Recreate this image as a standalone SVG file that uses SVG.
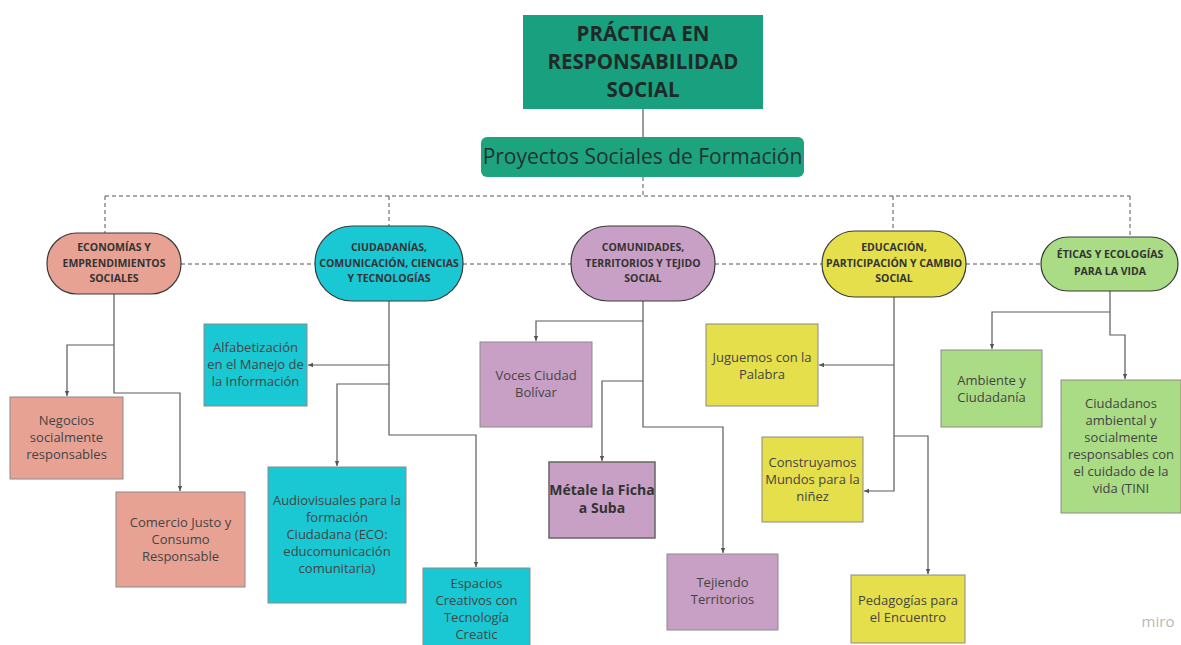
<svg xmlns="http://www.w3.org/2000/svg" width="1181" height="645" viewBox="0 0 1181 645">
<defs>
<marker id="ah" markerWidth="6" markerHeight="6" refX="5" refY="3" orient="auto" markerUnits="userSpaceOnUse">
<path d="M0,0.8 L5,3 L0,5.2 Z" fill="#555"/>
</marker>
<style>
text{font-family:"Open Sans","Noto Sans","Liberation Sans",sans-serif;text-anchor:middle}
.solid{fill:none;stroke:#5a5a5a;stroke-width:1.2}
.dash{fill:none;stroke:#555;stroke-width:1;stroke-dasharray:4,3}
.pill{stroke:#3a3a3a;stroke-width:1.2}
.box{stroke:#8a8a8a;stroke-width:1}
.nt{font-size:10.5px;font-weight:bold;fill:#333}
.bt{font-size:13px;fill:#444}
.sal{fill:#e8a294}.cya{fill:#1ac8d3}.lil{fill:#c8a0c6}.yel{fill:#e5df4b}.grn{fill:#aadb85}
</style>
</defs>
<rect width="1181" height="645" fill="#ffffff"/>

<g id="connectors">
<path class="solid" d="M643,109 V137"/>
<path class="dash" d="M643,177 V196 M105,196 H1130 M105,196 V233 M389,196 V226 M893,196 V231 M1130,196 V237"/>
<path class="dash" d="M181,264 H315 M463,264 H571 M715,264 H822 M966,264 H1041"/>
<path class="solid" d="M114,294 V393 H180 V491" marker-end="url(#ah)"/>
<path class="solid" d="M114,345 H67 V396" marker-end="url(#ah)"/>
<path class="solid" d="M389,301 V435 H476 V567" marker-end="url(#ah)"/>
<path class="solid" d="M389,365 H308" marker-end="url(#ah)"/>
<path class="solid" d="M389,384 H337 V466" marker-end="url(#ah)"/>
<path class="solid" d="M643,301 V427 H723 V553" marker-end="url(#ah)"/>
<path class="solid" d="M643,321 H536 V341" marker-end="url(#ah)"/>
<path class="solid" d="M643,381 H602 V461" marker-end="url(#ah)"/>
<path class="solid" d="M894,297 V491 H864" marker-end="url(#ah)"/>
<path class="solid" d="M894,365 H819" marker-end="url(#ah)"/>
<path class="solid" d="M894,436 H928 V574" marker-end="url(#ah)"/>
<path class="solid" d="M1110,291 V335 H1125 V379" marker-end="url(#ah)"/>
<path class="solid" d="M1110,312 H992 V349" marker-end="url(#ah)"/>
</g>

<g id="titulo">
<rect x="523" y="15" width="240" height="94" fill="#19a17f"/>
<text x="643" y="41" font-size="20.5" font-weight="bold" fill="#1f2a28">PRÁCTICA EN</text>
<text x="643" y="69" font-size="20.5" font-weight="bold" fill="#1f2a28">RESPONSABILIDAD</text>
<text x="643" y="97" font-size="20.5" font-weight="bold" fill="#1f2a28">SOCIAL</text>
</g>

<g id="proyectos">
<rect x="481" y="137" width="323" height="40" rx="6" fill="#1ea37f"/>
<text x="642.5" y="164" font-size="21" fill="#1f3330">Proyectos Sociales de Formación</text>
</g>

<g id="economias">
<rect class="pill sal" x="47" y="233" width="134" height="61" rx="30"/>
<text class="nt" x="114" y="251">ECONOMÍAS Y</text>
<text class="nt" x="114" y="267">EMPRENDIMIENTOS</text>
<text class="nt" x="114" y="282">SOCIALES</text>
</g>
<g id="ciudadanias">
<rect class="pill cya" x="315" y="226" width="148" height="75" rx="37"/>
<text class="nt" x="389" y="251">CIUDADANÍAS,</text>
<text class="nt" x="389" y="267">COMUNICACIÓN, CIENCIAS</text>
<text class="nt" x="389" y="282">Y TECNOLOGÍAS</text>
</g>
<g id="comunidades">
<rect class="pill lil" x="571" y="226" width="144" height="75" rx="37"/>
<text class="nt" x="643" y="251">COMUNIDADES,</text>
<text class="nt" x="643" y="267">TERRITORIOS Y TEJIDO</text>
<text class="nt" x="643" y="282">SOCIAL</text>
</g>
<g id="educacion">
<rect class="pill yel" x="822" y="231" width="144" height="66" rx="33"/>
<text class="nt" x="894" y="251">EDUCACIÓN,</text>
<text class="nt" x="894" y="267">PARTICIPACIÓN Y CAMBIO</text>
<text class="nt" x="894" y="282">SOCIAL</text>
</g>
<g id="eticas">
<rect class="pill grn" x="1041" y="237" width="137" height="54" rx="27"/>
<text class="nt" x="1110" y="258">ÉTICAS Y ECOLOGÍAS</text>
<text class="nt" x="1110" y="275">PARA LA VIDA</text>
</g>

<g id="negocios">
<rect class="box sal" x="10" y="397" width="113" height="82"/>
<text class="bt" x="66.5" y="425">Negocios</text>
<text class="bt" x="66.5" y="442">socialmente</text>
<text class="bt" x="66.5" y="459">responsables</text>
</g>
<g id="comercio">
<rect class="box sal" x="116" y="492" width="129" height="95"/>
<text class="bt" x="180.5" y="527">Comercio Justo y</text>
<text class="bt" x="180.5" y="544">Consumo</text>
<text class="bt" x="180.5" y="561">Responsable</text>
</g>
<g id="alfabetizacion">
<rect class="box cya" x="204" y="324" width="103" height="82"/>
<text class="bt" x="255.5" y="352">Alfabetización</text>
<text class="bt" x="255.5" y="369">en el Manejo de</text>
<text class="bt" x="255.5" y="386">la Información</text>
</g>
<g id="audiovisuales">
<rect class="box cya" x="268" y="467" width="138" height="136"/>
<text class="bt" x="337" y="505">Audiovisuales para la</text>
<text class="bt" x="337" y="522">formación</text>
<text class="bt" x="337" y="539">Ciudadana (ECO:</text>
<text class="bt" x="337" y="556">educomunicación</text>
<text class="bt" x="337" y="573">comunitaria)</text>
</g>
<g id="espacios">
<rect class="box cya" x="423" y="568" width="107" height="80"/>
<text class="bt" x="476.5" y="588">Espacios</text>
<text class="bt" x="476.5" y="605">Creativos con</text>
<text class="bt" x="476.5" y="622">Tecnología</text>
<text class="bt" x="476.5" y="639">Creatic</text>
</g>
<g id="voces">
<rect class="box lil" x="480" y="342" width="112" height="85"/>
<text class="bt" x="536" y="380">Voces Ciudad</text>
<text class="bt" x="536" y="397">Bolívar</text>
</g>
<g id="metale">
<rect class="lil" x="549" y="462" width="106" height="76" stroke="#666" stroke-width="1.5"/>
<text x="602" y="495" font-size="14" font-weight="bold" fill="#333">Métale la Ficha</text>
<text x="602" y="513" font-size="14" font-weight="bold" fill="#333">a Suba</text>
</g>
<g id="tejiendo">
<rect class="box lil" x="667" y="554" width="111" height="76"/>
<text class="bt" x="722.5" y="587">Tejiendo</text>
<text class="bt" x="722.5" y="604">Territorios</text>
</g>
<g id="juguemos">
<rect class="box yel" x="706" y="324" width="112" height="82"/>
<text class="bt" x="762" y="362">Juguemos con la</text>
<text class="bt" x="762" y="379">Palabra</text>
</g>
<g id="construyamos">
<rect class="box yel" x="762" y="437" width="101" height="85"/>
<text class="bt" x="812.5" y="467">Construyamos</text>
<text class="bt" x="812.5" y="484">Mundos para la</text>
<text class="bt" x="812.5" y="501">niñez</text>
</g>
<g id="pedagogias">
<rect class="box yel" x="851" y="575" width="114" height="68"/>
<text class="bt" x="908" y="605">Pedagogías para</text>
<text class="bt" x="908" y="622">el Encuentro</text>
</g>
<g id="ambiente">
<rect class="box grn" x="941" y="350" width="101" height="77"/>
<text class="bt" x="991.5" y="385">Ambiente y</text>
<text class="bt" x="991.5" y="402">Ciudadanía</text>
</g>
<g id="ciudadanos">
<rect class="box grn" x="1061" y="380" width="120" height="133"/>
<text class="bt" x="1121" y="408">Ciudadanos</text>
<text class="bt" x="1121" y="425">ambiental y</text>
<text class="bt" x="1121" y="442">socialmente</text>
<text class="bt" x="1121" y="459">responsables con</text>
<text class="bt" x="1121" y="476">el cuidado de la</text>
<text class="bt" x="1121" y="493">vida (TINI</text>
</g>
<text x="1158" y="627" font-size="15" fill="#b8b8b8">miro</text>
</svg>
